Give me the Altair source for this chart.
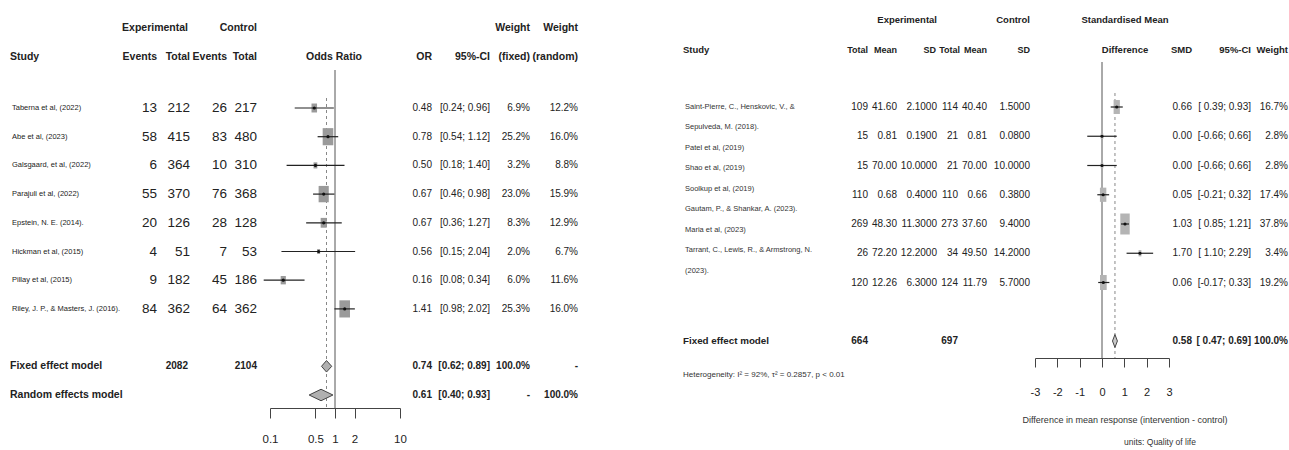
import altair as alt
import pandas as pd

FONT = "'Liberation Sans', Arial, sans-serif"
INK = "#222222"

# ---------------- Left meta-analysis (odds ratios) ----------------
l_study = ["Taberna et al, (2022)", "Abe et al, (2023)", "Galsgaard, et al, (2022)",
           "Parajuli et al, (2022)", "Epstein, N. E. (2014).", "Hickman et al, (2015)",
           "Pillay et al, (2015)", "Riley, J. P., & Masters, J. (2016)."]
l_e_events = [13, 58, 6, 55, 20, 4, 9, 84]
l_e_total = [212, 415, 364, 370, 126, 51, 182, 362]
l_c_events = [26, 83, 10, 76, 28, 7, 45, 64]
l_c_total = [217, 480, 310, 368, 128, 53, 186, 362]
l_or = [0.48, 0.78, 0.50, 0.67, 0.67, 0.56, 0.16, 1.41]
l_lo = [0.24, 0.54, 0.18, 0.46, 0.36, 0.15, 0.08, 0.98]
l_hi = [0.96, 1.12, 1.40, 0.98, 1.27, 2.04, 0.34, 2.02]
l_w_fixed = [6.9, 25.2, 3.2, 23.0, 8.3, 2.0, 6.0, 25.3]
l_w_random = [12.2, 16.0, 8.8, 15.9, 12.9, 6.7, 11.6, 16.0]

l_sum_label = ["Fixed effect model", "Random effects model"]
l_sum_tot_e = ["2082", ""]
l_sum_tot_c = ["2104", ""]
l_sum_est = [0.74, 0.61]
l_sum_lo = [0.62, 0.40]
l_sum_hi = [0.89, 0.93]
l_sum_wf = ["100.0%", "-"]
l_sum_wr = ["-", "100.0%"]
l_ticks = [0.1, 0.5, 1, 2, 10]

# ---------------- Right meta-analysis (SMD) ----------------
r_label_lines = ["Saint-Pierre, C., Henskovic, V., &", "Sepulveda, M. (2018).",
                 "Patel et al, (2019)", "Shao et al, (2019)", "Soolkup et al, (2019)",
                 "Gautam, P., & Shankar, A. (2023).", "Maria et al, (2023)",
                 "Tarrant, C., Lewis, R., & Armstrong, N.", "(2023)."]
r_e_total = [109, 15, 15, 110, 269, 26, 120]
r_e_mean = [41.60, 0.81, 70.00, 0.68, 48.30, 72.20, 12.26]
r_e_sd = [2.1000, 0.1900, 10.0000, 0.4000, 11.3000, 12.2000, 6.3000]
r_c_total = [114, 21, 21, 110, 273, 34, 124]
r_c_mean = [40.40, 0.81, 70.00, 0.66, 37.60, 49.50, 11.79]
r_c_sd = [1.5000, 0.0800, 10.0000, 0.3800, 9.4000, 14.2000, 5.7000]
r_smd = [0.66, 0.00, 0.00, 0.05, 1.03, 1.70, 0.06]
r_lo = [0.39, -0.66, -0.66, -0.21, 0.85, 1.10, -0.17]
r_hi = [0.93, 0.66, 0.66, 0.32, 1.21, 2.29, 0.33]
r_w = [16.7, 2.8, 2.8, 17.4, 37.8, 3.4, 19.2]

r_sum_label = ["Fixed effect model"]
r_sum_tot_e = ["664"]
r_sum_tot_c = ["697"]
r_sum_est = [0.58]
r_sum_lo = [0.47]
r_sum_hi = [0.69]
r_sum_w = ["100.0%"]
r_ticks = [-3, -2, -1, 0, 1, 2, 3]


def ci_text(lo, hi, pad):
    return f"[{lo:5.2f}; {hi:.2f}]" if pad else f"[{lo:.2f}; {hi:.2f}]"


left = pd.DataFrame({
    "row": list(range(1, len(l_study) + 1)),
    "study": l_study,
    "ee": [str(v) for v in l_e_events], "et": [str(v) for v in l_e_total],
    "ce": [str(v) for v in l_c_events], "ct": [str(v) for v in l_c_total],
    "est": l_or, "lo": l_lo, "hi": l_hi, "w": l_w_fixed,
    "est_t": [f"{v:.2f}" for v in l_or],
    "ci_t": [ci_text(a, b, False) for a, b in zip(l_lo, l_hi)],
    "wf_t": [f"{v:.1f}%" for v in l_w_fixed],
    "wr_t": [f"{v:.1f}%" for v in l_w_random],
})
left_sum = pd.DataFrame({
    "row": [len(l_study) + 2 + i for i in range(len(l_sum_label))],
    "label": l_sum_label, "te": l_sum_tot_e, "tc": l_sum_tot_c,
    "est": l_sum_est, "lo": l_sum_lo, "hi": l_sum_hi,
    "est_t": [f"{v:.2f}" for v in l_sum_est],
    "ci_t": [ci_text(a, b, False) for a, b in zip(l_sum_lo, l_sum_hi)],
    "wf_t": l_sum_wf, "wr_t": l_sum_wr,
})

right = pd.DataFrame({
    "row": list(range(1, len(r_smd) + 1)),
    "et": [str(v) for v in r_e_total], "em": [f"{v:.2f}" for v in r_e_mean],
    "es": [f"{v:.4f}" for v in r_e_sd],
    "ct": [str(v) for v in r_c_total], "cm": [f"{v:.2f}" for v in r_c_mean],
    "cs": [f"{v:.4f}" for v in r_c_sd],
    "est": r_smd, "lo": r_lo, "hi": r_hi, "w": r_w,
    "est_t": [f"{v:.2f}" for v in r_smd],
    "ci_t": [ci_text(a, b, True) for a, b in zip(r_lo, r_hi)],
    "w_t": [f"{v:.1f}%" for v in r_w],
})
right_lines = pd.DataFrame({"i": list(range(len(r_label_lines))), "line": r_label_lines})
right_sum = pd.DataFrame({
    "row": [len(r_smd) + 2],
    "label": r_sum_label, "te": r_sum_tot_e, "tc": r_sum_tot_c,
    "est": r_sum_est, "lo": r_sum_lo, "hi": r_sum_hi,
    "est_t": [f"{v:.2f}" for v in r_sum_est],
    "ci_t": [ci_text(a, b, True) for a, b in zip(r_sum_lo, r_sum_hi)],
    "w_t": r_sum_w,
})


def diamond_frame(sum_df):
    recs = []
    for _, r in sum_df.iterrows():
        for x, k in ((r["lo"], 0), (r["est"], 1), (r["hi"], 0)):
            recs.append({"id": r["label"], "row": r["row"], "x": x, "k": k})
    return pd.DataFrame(recs)


ONE = pd.DataFrame({"a": [0]})


def lab(text, x, y, align="left", size=10.5, bold=True, color=INK):
    return alt.Chart(ONE).mark_text(
        text=text, align=align, baseline="middle", fontSize=size, font=FONT,
        fontWeight="bold" if bold else "normal", color=color,
    ).encode(x=alt.value(x), y=alt.value(y))


def col(df, field, x, Y, align="right", size=10, bold=False, color=INK):
    return alt.Chart(df).mark_text(
        align=align, baseline="middle", fontSize=size, font=FONT,
        fontWeight="bold" if bold else "normal", color=color,
    ).encode(x=alt.value(x), y=Y, text=f"{field}:N")


# ======================= LEFT PANEL =======================
LYS = alt.Scale(domain=[1, 11], range=[108, 395], nice=False, zero=False)
LY = alt.Y("row:Q", scale=LYS, axis=None)
LXS = alt.Scale(type="log", domain=[0.1, 10], range=[270, 400], nice=False)
LXA = alt.Axis(values=l_ticks, format="~g", grid=False, title=None, domainColor="#444",
               tickColor="#444", tickSize=10, labelPadding=15, labelFontSize=11.5,
               labelFont=FONT, labelColor=INK, labelOverlap=False, labelFlush=False,
               labelBound=False, domainWidth=1)


def LX(field):
    return alt.X(field, scale=LXS, axis=LXA)


l_layers = []
l_layers.append(alt.Chart(ONE).transform_calculate(v="1").mark_rule(color="#555", strokeWidth=1).encode(
    x=LX("v:Q"), y=alt.value(70), y2=alt.value(408)))
l_layers.append(alt.Chart(left_sum.iloc[[0]]).mark_rule(color="#888", strokeDash=[3, 3], strokeWidth=1).encode(
    x=LX("est:Q"), y=alt.value(98), y2=alt.value(408)))
l_layers.append(alt.Chart(left).mark_point(
    shape="M-0.62,-1L0.62,-1L0.62,1L-0.62,1Z", filled=True, color="#9a9a9a", opacity=1
).encode(x=LX("est:Q"), y=LY,
         size=alt.Size("w:Q", scale=alt.Scale(domain=[0, 25.3], range=[0, 440]), legend=None)))
l_layers.append(alt.Chart(left).mark_rule(color="#222", strokeWidth=1.2).encode(
    x=LX("lo:Q"), x2="hi:Q", y=LY))
l_layers.append(alt.Chart(left).mark_point(shape="circle", filled=True, size=10, color="#111", opacity=1).encode(
    x=LX("est:Q"), y=LY))
l_layers.append(alt.Chart(diamond_frame(left_sum)).transform_calculate(
    y1="datum.row - datum.k * 0.2", y2="datum.row + datum.k * 0.2"
).mark_area(color="#b0b0b0", stroke="#444", strokeWidth=1, opacity=1).encode(
    x=LX("x:Q"), y=alt.Y("y1:Q", scale=LYS, axis=None), y2="y2:Q", detail="id:N"))

l_layers += [
    col(left, "study", 12, LY, align="left", size=7.5),
    col(left, "ee", 157, LY, size=13.5), col(left, "et", 190, LY, size=13.5),
    col(left, "ce", 227, LY, size=13.5), col(left, "ct", 257, LY, size=13.5),
    col(left, "est_t", 432, LY), col(left, "ci_t", 490, LY),
    col(left, "wf_t", 530, LY), col(left, "wr_t", 578, LY),
    col(left_sum, "label", 10, LY, align="left", size=10.5, bold=True),
    col(left_sum, "te", 188, LY, bold=True), col(left_sum, "tc", 257, LY, bold=True),
    col(left_sum, "est_t", 432, LY, bold=True), col(left_sum, "ci_t", 490, LY, bold=True),
    col(left_sum, "wf_t", 530, LY, bold=True), col(left_sum, "wr_t", 578, LY, bold=True),
]
l_layers += [
    lab("Experimental", 188, 28, "right"), lab("Control", 257, 28, "right"),
    lab("Weight", 530, 28, "right"), lab("Weight", 578, 28, "right"),
    lab("Study", 10, 57), lab("Events", 157, 57, "right"), lab("Total", 190, 57, "right"),
    lab("Events", 227, 57, "right"), lab("Total", 257, 57, "right"),
    lab("Odds Ratio", 334, 57, "center"), lab("OR", 432, 57, "right"),
    lab("95%-CI", 490, 57, "right"), lab("(fixed)", 530, 57, "right"),
    lab("(random)", 578, 57, "right"),
]
left_chart = alt.layer(*l_layers).properties(width=645, height=408)

# ======================= RIGHT PANEL =======================
RYS = alt.Scale(domain=[1, 9], range=[107, 341], nice=False, zero=False)
RY = alt.Y("row:Q", scale=RYS, axis=None)
RXS = alt.Scale(domain=[-3, 3], range=[390, 524], nice=False, zero=False)
RXA = alt.Axis(values=r_ticks, labelExpr="'' + datum.value", grid=False, title=None,
               domainColor="#444", tickColor="#444", tickSize=9, labelPadding=19,
               labelFontSize=11, labelFont=FONT, labelColor=INK, labelOverlap=False,
               labelFlush=False, labelBound=False)


def RX(field):
    return alt.X(field, scale=RXS, axis=RXA)


r_layers = []
r_layers.append(alt.Chart(ONE).transform_calculate(v="0").mark_rule(color="#555", strokeWidth=1).encode(
    x=RX("v:Q"), y=alt.value(62), y2=alt.value(358)))
r_layers.append(alt.Chart(right_sum).mark_rule(color="#888", strokeDash=[3, 3], strokeWidth=1).encode(
    x=RX("est:Q"), y=alt.value(93), y2=alt.value(358)))
r_layers.append(alt.Chart(right).mark_point(
    shape="M-0.45,-1L0.45,-1L0.45,1L-0.45,1Z", filled=True, color="#b4b4b4", opacity=1
).encode(x=RX("est:Q"), y=RY,
         size=alt.Size("w:Q", scale=alt.Scale(domain=[0, 37.8], range=[0, 620]), legend=None)))
r_layers.append(alt.Chart(right).mark_rule(color="#222", strokeWidth=1.2).encode(
    x=RX("lo:Q"), x2="hi:Q", y=RY))
r_layers.append(alt.Chart(right).mark_point(shape="circle", filled=True, size=10, color="#111", opacity=1).encode(
    x=RX("est:Q"), y=RY))
r_layers.append(alt.Chart(diamond_frame(right_sum)).transform_calculate(
    y1="datum.row - datum.k * 0.22", y2="datum.row + datum.k * 0.22"
).mark_area(color="#c8c8c8", stroke="#444", strokeWidth=1, opacity=1).encode(
    x=RX("x:Q"), y=alt.Y("y1:Q", scale=RYS, axis=None), y2="y2:Q", detail="id:N"))

r_layers.append(alt.Chart(right_lines).transform_calculate(
    row="1 + datum.i * 0.7"
).mark_text(align="left", baseline="middle", fontSize=7.5, font=FONT, color="#333").encode(
    x=alt.value(40), y=RY, text="line:N"))
r_layers += [
    col(right, "et", 223, RY), col(right, "em", 252, RY),
    col(right, "es", 292, RY), col(right, "ct", 313, RY),
    col(right, "cm", 342, RY), col(right, "cs", 385, RY),
    col(right, "est_t", 547, RY), col(right, "ci_t", 606, RY),
    col(right, "w_t", 643, RY),
    col(right_sum, "label", 38, RY, align="left", size=9.8, bold=True),
    col(right_sum, "te", 223, RY, bold=True), col(right_sum, "tc", 313, RY, bold=True),
    col(right_sum, "est_t", 547, RY, bold=True), col(right_sum, "ci_t", 606, RY, bold=True),
    col(right_sum, "w_t", 643, RY, bold=True),
]
r_layers += [
    lab("Experimental", 292, 20, "right", 9.5), lab("Control", 385, 20, "right", 9.5),
    lab("Standardised Mean", 480, 20, "center", 9.5),
    lab("Study", 38, 50, "left", 9.5), lab("Total", 223, 50, "right", 9),
    lab("Mean", 252, 50, "right", 9), lab("SD", 291, 50, "right", 9),
    lab("Total", 315, 50, "right", 9), lab("Mean", 342, 50, "right", 9),
    lab("SD", 385, 50, "right", 9), lab("Difference", 480, 50, "center", 9.5),
    lab("SMD", 547, 50, "right", 9.5), lab("95%-CI", 606, 50, "right", 9.5),
    lab("Weight", 643, 50, "right", 9.5),
    lab("Heterogeneity: I\u00b2 = 92%, \u03c4\u00b2 = 0.2857, p < 0.01", 38, 375, "left", 8, False, "#333"),
    lab("Difference in mean response (intervention - control)", 480, 420, "center", 9, False, "#333"),
    lab("units: Quality of life", 515, 442, "center", 8.5, False, "#333"),
]
right_chart = alt.layer(*r_layers).properties(width=644, height=358)

chart = alt.hconcat(left_chart, right_chart, spacing=0).properties(
    padding=0, background="white"
).configure_view(stroke=None)

chart.save("out.html", embed_options={"renderer": "svg", "actions": False})
